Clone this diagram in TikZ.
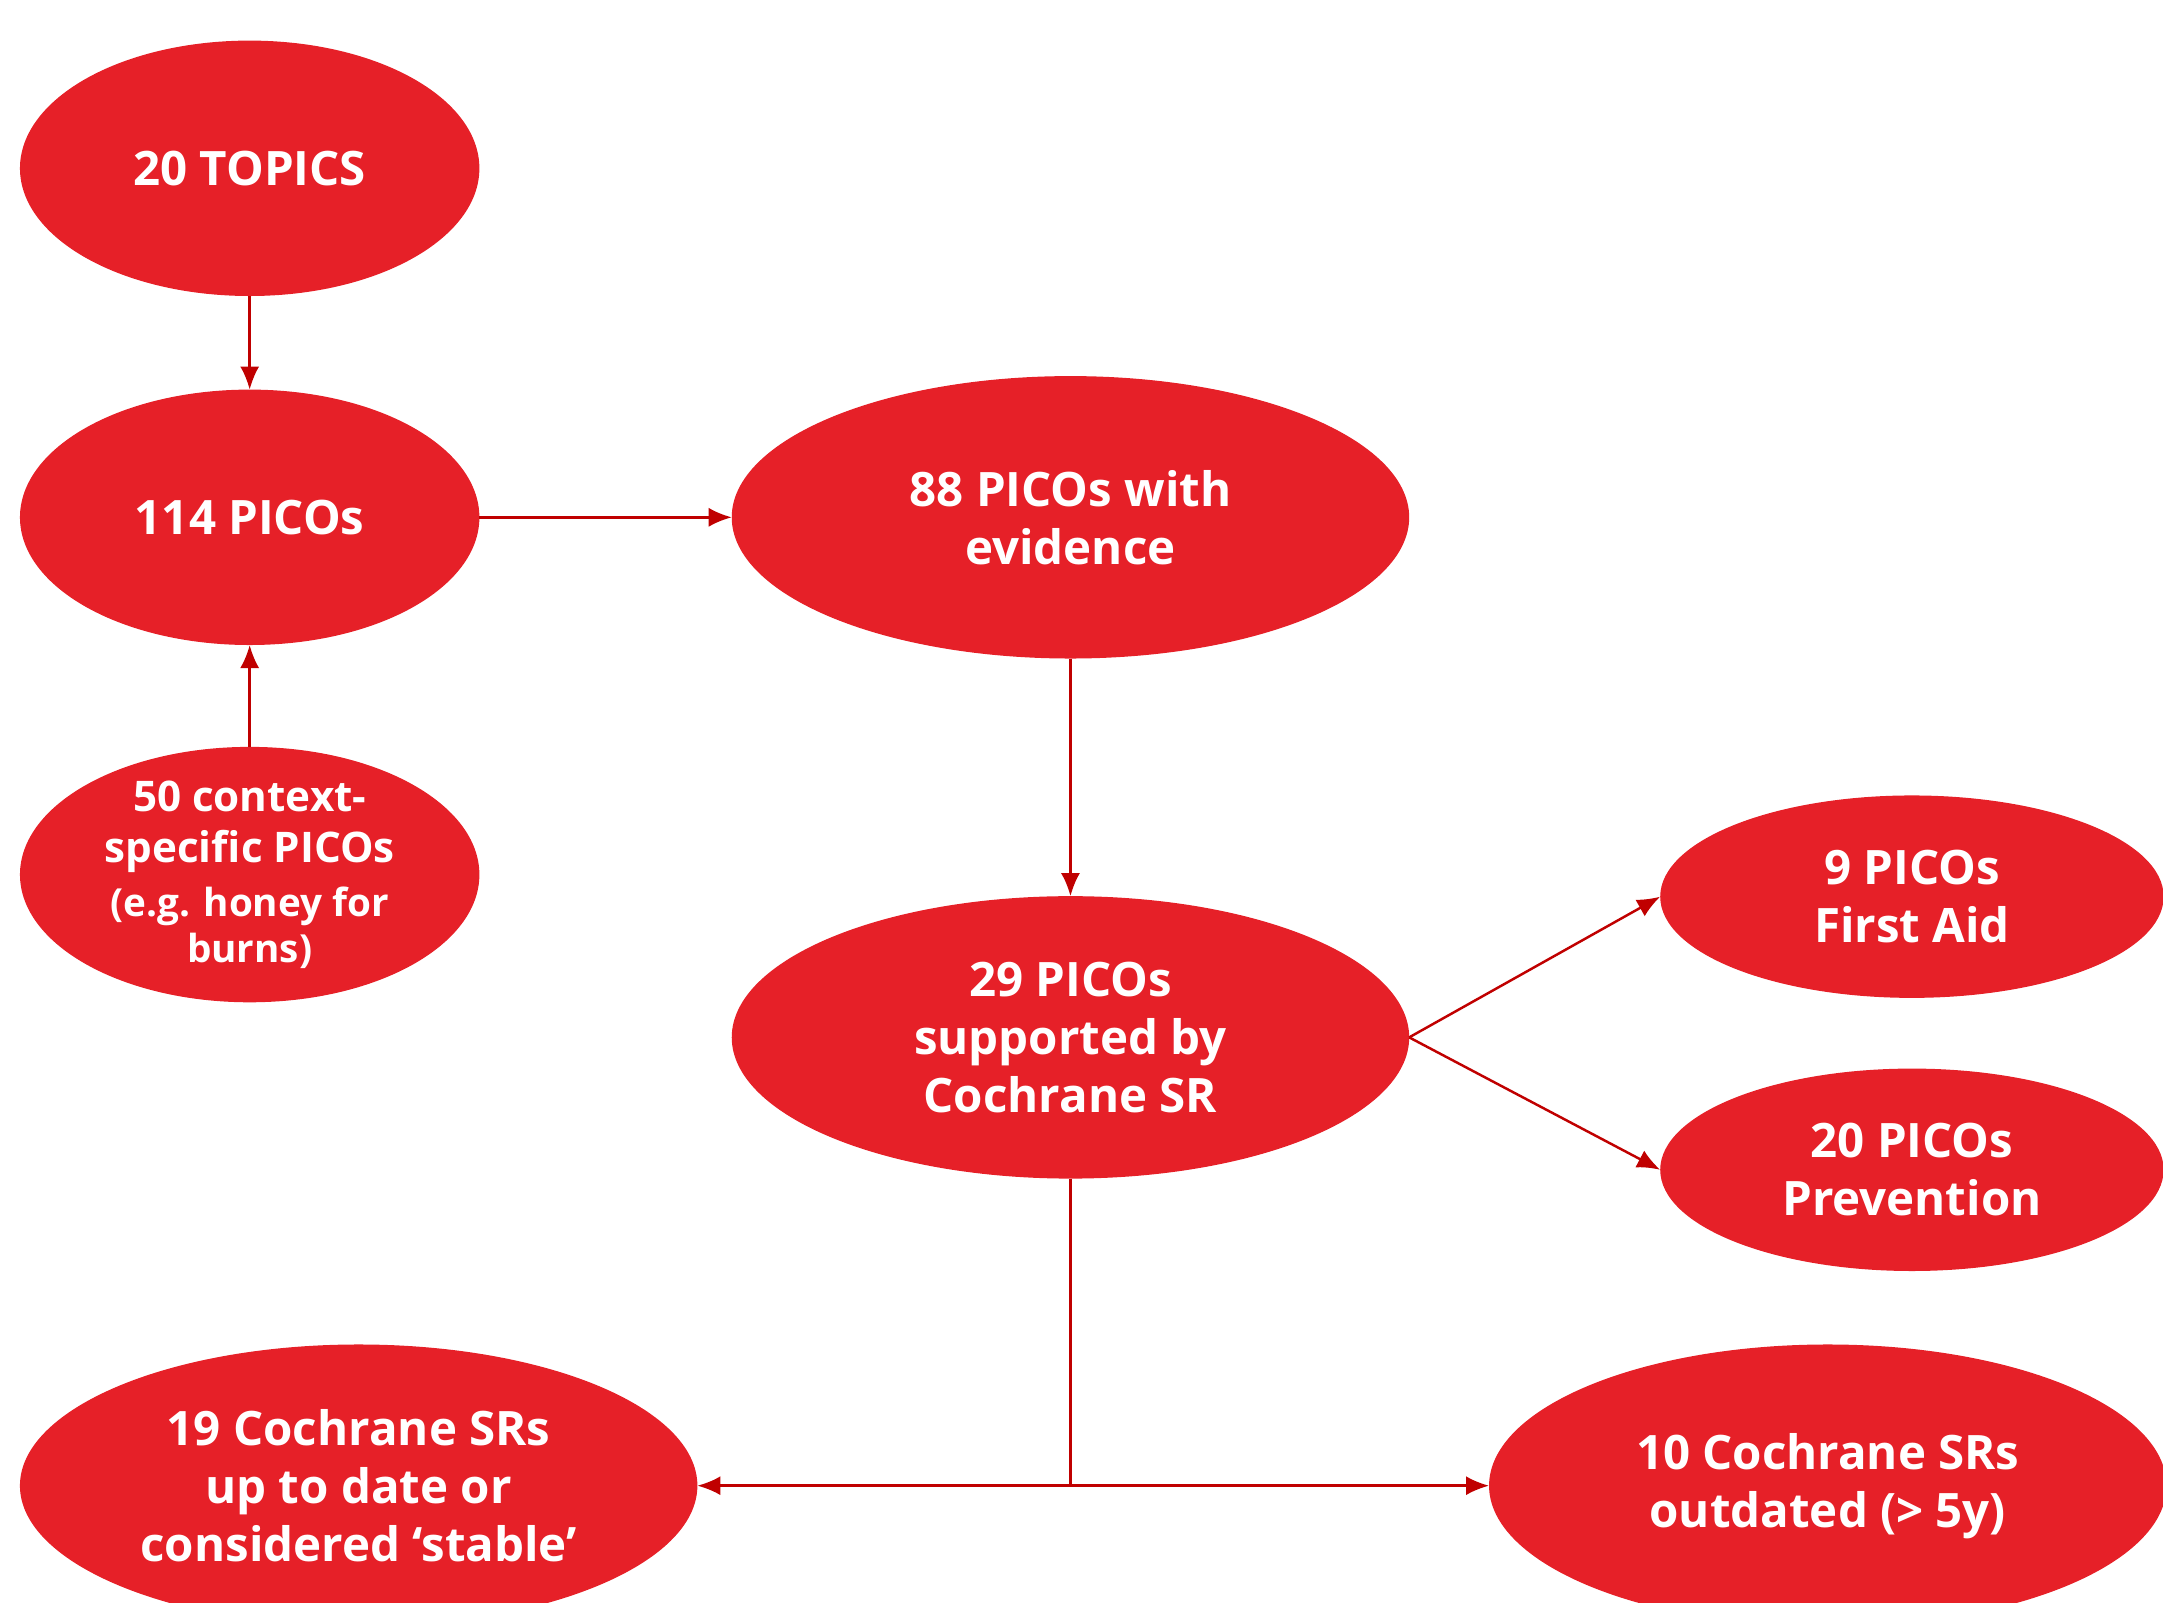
\documentclass[tikz,border=0pt]{standalone}
\usepackage{fontspec}
\setmainfont{Open Sans}
\usetikzlibrary{shapes.geometric,arrows.meta}
\definecolor{boxred}{RGB}{230,32,40}
\definecolor{linkred}{RGB}{192,0,0}
\tikzset{
    picobox/.style={ellipse, fill=boxred, draw=boxred, text=white, inner sep=0pt,
        align=center, font=\fontsize{13.5}{16.5}\selectfont\bfseries},
    smallbox/.style={picobox, minimum width=4.58cm, minimum height=2.54cm},
    widebox/.style={picobox, minimum width=6.76cm, minimum height=2.81cm},
    sidebox/.style={picobox, minimum width=5.02cm, minimum height=2.01cm},
    link/.style={draw=linkred, line width=0.7pt, -{Latex[length=2.3mm,width=1.9mm]}}
}
\begin{document}
\begin{tikzpicture}[x=0.013795cm, y=-0.013795cm]
    \useasboundingbox (0,0) rectangle (1568,1162);
    % left column
    \node[smallbox] (topics) at (181,122) {20 TOPICS};
    \node[smallbox] (p114) at (181,375) {114 PICOs};
    \node[smallbox, inner ysep=-4mm, font=\fontsize{12}{14.5}\selectfont\bfseries] (ctx) at (181,634)
        {50 context-\\specific PICOs\\[0.3mm]{\fontsize{11}{13}\selectfont (e.g. honey for}\\[-0.5mm]{\fontsize{11}{13}\selectfont burns)}};
    % middle column
    \node[widebox] (p88) at (776,375) {88 PICOs with\\evidence};
    \node[widebox] (p29) at (776,752) {29 PICOs\\supported by\\Cochrane SR};
    % right column
    \node[sidebox] (aid) at (1386,650) {9 PICOs\\First Aid};
    \node[sidebox] (prev) at (1386,848) {20 PICOs\\Prevention};
    % bottom row
    \node[widebox] (stable) at (260,1077) {19 Cochrane SRs\\up to date or\\considered ‘stable’};
    \node[widebox] (old) at (1325,1077) {10 Cochrane SRs\\outdated (> 5y)};
    \coordinate (split) at (p29.south |- stable.east);
    % connectors
    \draw[link] (topics) -- (p114);
    \draw[link] (ctx) -- (p114);
    \draw[link] (p114) -- (p88);
    \draw[link] (p88) -- (p29);
    \draw[link] (p29.east) -- (aid.west);
    \draw[link] (p29.east) -- (prev.west);
    \draw[draw=linkred, line width=0.7pt] (p29.south) -- (split);
    \draw[link] (split) -- (stable.east);
    \draw[link] (split) -- (old.west);
\end{tikzpicture}
\end{document}
